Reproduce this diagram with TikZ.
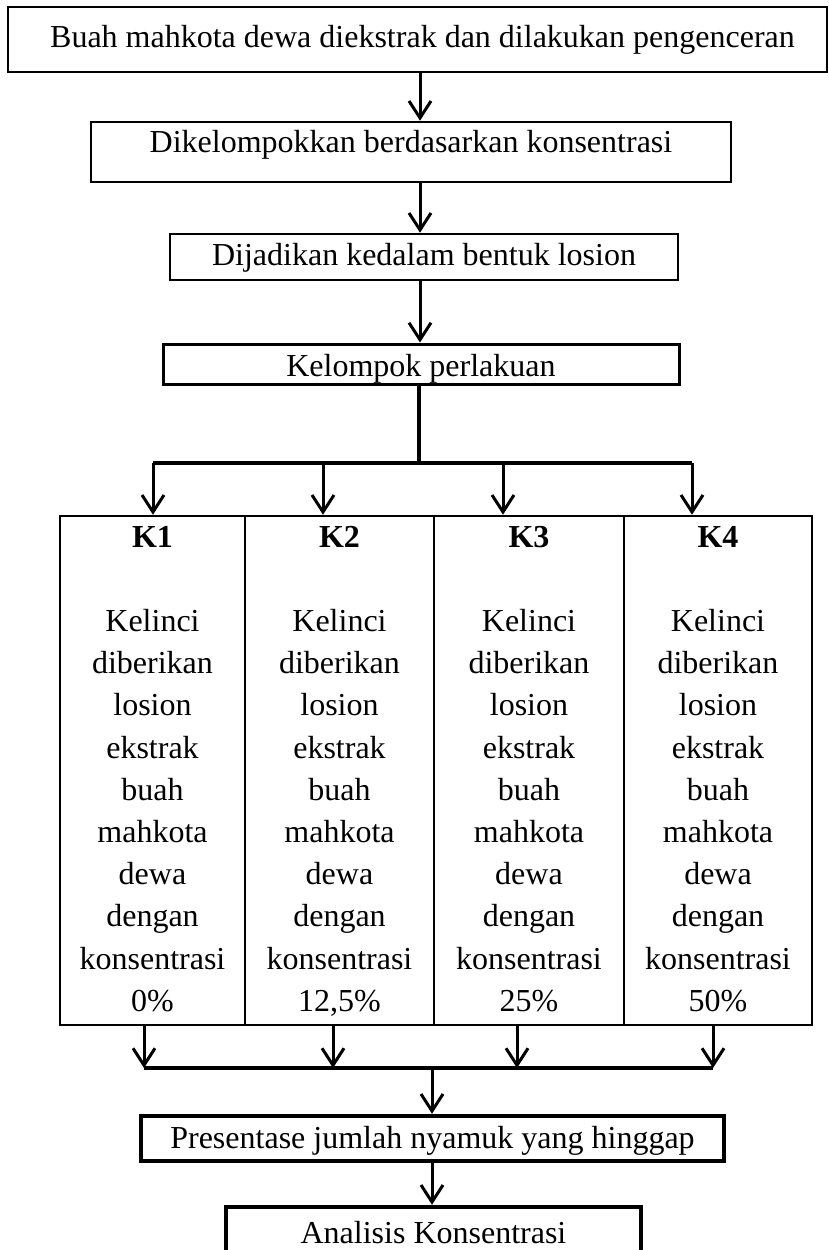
\documentclass[tikz,border=0pt]{standalone}
\usepackage{fontspec}
\setmainfont{Liberation Serif}
\usetikzlibrary{arrows.meta}
\begin{document}
\begin{tikzpicture}[x=1pt,y=-1pt,
  every node/.style={font=\fontsize{32}{42.2}\selectfont, inner sep=0pt},
  box/.style={draw, line width=2.5pt},
  thickbox/.style={draw, line width=4.5pt},
  kbox/.style={draw, line width=2.5pt, minimum height=509pt},
  ktext/.style={anchor=base, text width=180pt, align=center},
  arr/.style={line width=3pt, -{Straight Barb[length=17pt,width=22pt,line width=3pt]}},
  link/.style={line width=4pt}]

\path[use as bounding box] (0,0) rectangle (828,1250);
\clip (0,0) rectangle (828,1250);

% main boxes
\node[box, minimum width=819pt, minimum height=65pt, text height=22.5pt, text depth=7.5pt] (B1) at (417.5,39.5) {\hspace*{10pt}Buah mahkota dewa diekstrak dan dilakukan pengenceran};
\node[box, minimum width=640pt, minimum height=60pt, text height=15pt, text depth=15pt] (B2) at (411,152) {Dikelompokkan berdasarkan konsentrasi};
\node[box, minimum width=508pt, minimum height=46pt, text height=23pt, text depth=7pt] (B3) at (424,257) {Dijadikan kedalam bentuk losion};
\node[box, line width=3pt, minimum width=516pt, minimum height=40pt, text height=27pt, text depth=3pt] (B4) at (421,364) {Kelompok perlakuan};

% group boxes
\node[kbox, minimum width=185pt] (K1) at (152.5,770.5) {};
\node[kbox, minimum width=189pt] (K2) at (339.5,770.5) {};
\node[kbox, minimum width=190pt] (K3) at (529,770.5) {};
\node[kbox, minimum width=188pt] (K4) at (718,770.5) {};

\node[ktext] (T1) at (152.5,547) {\textbf{K1}\\\mbox{}\\Kelinci\\diberikan\\losion\\ekstrak\\buah\\mahkota\\dewa\\dengan\\konsentrasi\\0\%};
\node[ktext] (T2) at (339.5,547) {\textbf{K2}\\\mbox{}\\Kelinci\\diberikan\\losion\\ekstrak\\buah\\mahkota\\dewa\\dengan\\konsentrasi\\12,5\%};
\node[ktext] (T3) at (529,547) {\textbf{K3}\\\mbox{}\\Kelinci\\diberikan\\losion\\ekstrak\\buah\\mahkota\\dewa\\dengan\\konsentrasi\\25\%};
\node[ktext] (T4) at (718,547) {\textbf{K4}\\\mbox{}\\Kelinci\\diberikan\\losion\\ekstrak\\buah\\mahkota\\dewa\\dengan\\konsentrasi\\50\%};

% lower boxes
\node[thickbox, minimum width=583pt, minimum height=45pt, text height=25pt, text depth=5pt] (P) at (432.5,1138.5) {Presentase jumlah nyamuk yang hinggap};
\node[thickbox, minimum width=415pt, minimum height=48pt, text height=27pt, text depth=3pt] (A) at (433.5,1231) {Analisis Konsentrasi};

% helper coordinates
\coordinate (cx) at (420,0);
\coordinate (j) at (419,463);
\coordinate (b1) at (153,463);
\coordinate (b2) at (323,463);
\coordinate (b3) at (503,463);
\coordinate (b4) at (692,463);
\coordinate (c1) at (144,1068);
\coordinate (c2) at (333,1068);
\coordinate (c3) at (517,1068);
\coordinate (c4) at (713,1068);
\coordinate (m) at (432,1068);

% top chain
\draw[arr] (cx |- B1.south) -- (cx |- B2.north);
\draw[arr] (cx |- B2.south) -- (cx |- B3.north);
\draw[arr] (cx |- B3.south) -- (cx |- B4.north);

% branching
\draw[link] (j |- B4.south) -- (j);
\draw[link] (b1) -- (b4);
\draw[arr] (b1) -- (b1 |- K1.north);
\draw[arr] (b2) -- (b2 |- K2.north);
\draw[arr] (b3) -- (b3 |- K3.north);
\draw[arr] (b4) -- (b4 |- K4.north);

% merging
\draw[arr] (c1 |- K1.south) -- (c1);
\draw[arr] (c2 |- K2.south) -- (c2);
\draw[arr] (c3 |- K3.south) -- (c3);
\draw[arr] (c4 |- K4.south) -- (c4);
\draw[link] (c1) -- (c4);
\draw[arr] (m) -- (m |- P.north);
\draw[arr] (m |- P.south) -- (m |- A.north);
\end{tikzpicture}
\end{document}
